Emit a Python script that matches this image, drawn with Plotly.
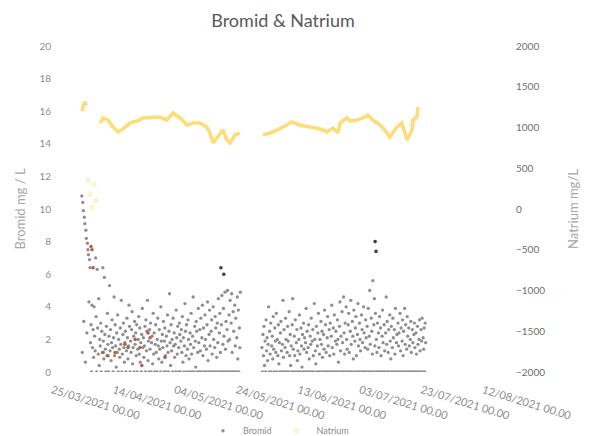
import pandas as pd
import plotly.graph_objects as go

# ---------------- data ----------------
bromid_seg1_start = "2021-04-03 16:00"
bromid_seg1 = [
    10.8, 1.2, 10.4, 9.9, 3.1, 9.5, 9.1, 0.6, 8.7, 8.2, 2.4, 7.9,
    7.5, 7.2, 4.3, 6.9, 6.4, 1.8, 2.9, 0.0, 4.1, 1.5, 2.6, 0.9,
    4.0, 2.2, 1.3, 7.0, 3.4, 0.0, 6.3, 2.7, 1.1, 4.5, 0.4, 2.0,
    1.6, 3.0, 0.0, 2.5, 1.2, 6.4, 1.9, 0.8, 5.8, 2.3, 1.4, 0.0,
    2.8, 1.0, 3.6, 1.7, 0.0, 2.2, 5.3, 1.3, 2.6, 0.7, 1.8, 3.2,
    1.5, 0.0, 2.1, 4.6, 1.0, 2.9, 1.6, 0.3, 2.4, 1.2, 3.5, 0.0,
    2.0, 1.4, 0.9, 2.7, 1.7, 4.4, 0.0, 1.1, 2.3, 3.0, 1.5, 0.6,
    1.8, 2.5, 0.0, 1.3, 3.3, 2.1, 0.8, 1.6, 4.1, 2.8, 0.0, 1.9,
    1.2, 2.6, 3.7, 0.5, 1.5, 2.2, 0.0, 3.1, 1.7, 2.4, 1.0, 2.9,
    0.0, 1.4, 2.0, 3.4, 1.1, 2.7, 0.6, 1.8, 0.0, 2.3, 3.9, 1.5,
    2.1, 0.9, 1.6, 2.8, 0.0, 3.2, 1.3, 2.5, 4.4, 0.7, 1.9, 0.0,
    2.6, 1.4, 3.0, 0.0, 1.8, 2.2, 0.5, 3.6, 1.1, 2.4, 0.0, 1.7,
    2.9, 1.2, 0.0, 2.0, 3.3, 1.6, 0.8, 2.6, 1.4, 0.0, 4.0, 1.9,
    0.6, 2.3, 1.5, 3.1, 0.0, 1.9, 2.7, 1.0, 0.0, 2.2, 1.6, 3.5,
    1.2, 0.0, 2.5, 4.8, 1.8, 0.4, 2.9, 1.3, 2.0, 0.0, 3.3, 1.6,
    2.4, 0.9, 1.7, 0.0, 3.8, 2.1, 1.1, 2.8, 0.0, 1.5, 3.0, 2.3,
    0.0, 1.9, 2.6, 1.2, 3.4, 0.6, 2.1, 0.0, 1.6, 4.2, 2.5, 1.0,
    2.9, 0.0, 1.4, 3.2, 2.0, 0.8, 0.0, 2.4, 1.7, 3.6, 1.1, 0.0,
    2.2, 4.6, 1.5, 0.0, 2.8, 1.9, 0.3, 3.1, 2.5, 0.0, 1.2, 3.9,
    1.8, 0.0, 2.6, 1.3, 3.3, 0.0, 2.1, 4.1, 1.0, 2.7, 0.0, 1.6,
    3.5, 2.0, 0.0, 1.4, 2.9, 4.3, 0.7, 0.0, 2.3, 3.8, 1.6, 0.0,
    2.5, 3.2, 1.1, 0.0, 4.0, 2.0, 0.0, 1.5, 3.4, 2.7, 0.0, 0.9,
    3.0, 1.8, 4.5, 0.0, 2.4, 3.6, 1.2, 0.0, 2.9, 4.7, 0.0, 1.7,
    3.9, 2.2, 0.0, 4.9, 1.4, 3.1, 0.0, 2.6, 5.0, 1.9, 0.0, 3.5,
    2.0, 4.4, 0.0, 3.0, 4.8, 1.2, 0.0, 3.7, 2.5, 0.0, 4.1, 1.6,
    3.3, 0.0, 2.1, 4.6, 0.8, 3.8, 0.0, 2.7, 1.5, 4.9,
]

bromid_seg2_start = "2021-06-01 04:00"
bromid_seg2 = [
    1.5, 0.0, 2.3, 1.0, 2.8, 0.4, 1.9, 0.0, 3.2, 1.3, 2.1, 0.7,
    1.7, 4.0, 0.0, 2.5, 1.1, 3.0, 0.0, 1.6, 2.2, 0.8, 3.4, 1.4,
    0.0, 2.7, 1.9, 1.2, 3.6, 0.0, 2.0, 1.0, 2.9, 0.5, 1.8, 0.0,
    2.4, 3.1, 1.3, 0.0, 1.7, 4.4, 0.9, 2.6, 0.0, 1.5, 3.3, 2.0,
    0.0, 1.2, 2.8, 1.9, 0.0, 3.7, 1.0, 2.3, 0.4, 1.6, 0.0, 2.9,
    4.5, 1.4, 0.0, 2.2, 1.0, 3.2, 0.0, 1.8, 2.6, 0.7, 1.3, 0.0,
    2.0, 3.5, 1.1, 0.0, 2.7, 1.6, 0.3, 2.3, 0.0, 3.0, 1.4, 2.1,
    0.0, 1.8, 3.9, 1.2, 2.5, 0.0, 1.5, 2.9, 0.8, 0.0, 2.2, 1.7,
    3.3, 0.0, 1.9, 2.6, 1.0, 0.0, 4.2, 2.0, 1.3, 0.5, 2.8, 0.0,
    1.6, 2.4, 3.6, 0.0, 1.1, 2.0, 0.0, 3.1, 1.7, 2.5, 0.9, 0.0,
    2.3, 1.4, 3.8, 0.0, 2.9, 1.2, 0.0, 2.1, 3.4, 1.6, 0.0, 2.6,
    1.0, 3.0, 0.0, 2.2, 4.1, 1.5, 0.0, 2.7, 1.1, 3.5, 0.0, 1.9,
    2.5, 0.0, 1.7, 3.2, 2.0, 0.6, 0.0, 2.8, 4.3, 1.3, 2.2, 0.0,
    3.7, 1.8, 0.0, 4.6, 2.4, 1.1, 3.0, 0.0, 4.0, 2.0, 1.4, 0.0,
    2.9, 3.6, 1.2, 0.0, 2.5, 4.4, 1.7, 0.0, 3.1, 2.2, 0.8, 3.8,
    0.0, 1.9, 2.7, 3.4, 1.0, 0.0, 2.3, 4.2, 1.6, 0.0, 3.0, 2.0,
    1.3, 0.0, 3.5, 2.6, 1.8, 0.0, 4.0, 2.4, 0.0, 1.5, 3.2, 2.1,
    0.0, 2.8, 1.4, 3.9, 0.0, 2.2, 5.0, 1.7, 0.0, 3.3, 2.5, 1.1,
    5.6, 0.0, 2.9, 4.5, 1.6, 3.6, 0.0, 2.0, 1.2, 3.0, 0.0, 2.4,
    1.5, 3.4, 0.0, 2.7, 1.0, 0.0, 2.2, 3.8, 1.8, 0.0, 2.9, 1.3,
    0.0, 2.4, 4.6, 1.7, 3.1, 0.0, 1.2, 2.6, 0.0, 3.5, 1.9, 0.8,
    2.8, 0.0, 1.5, 3.3, 2.1, 0.0, 2.6, 1.1, 3.9, 0.0, 1.8, 2.3,
    0.0, 3.0, 1.6, 2.4, 0.0, 3.6, 1.3, 2.7, 0.0, 1.9, 3.2, 1.0,
    2.5, 0.0, 3.9, 1.7, 2.9, 0.0, 1.4, 3.4, 2.2, 0.0, 2.7, 1.6,
    0.0, 2.0, 3.1, 1.2, 0.0, 2.6, 1.8, 0.0, 2.3, 3.0, 1.5, 0.0,
    2.4, 1.1, 0.0, 2.8, 1.7, 0.0, 2.0, 3.2, 1.3, 0.0, 2.6, 1.9,
    3.3, 0.0, 2.1, 1.4, 2.7, 0.0, 3.0, 1.8,
]

bromid_red_dates = ["2021-04-06 16:00", "2021-04-07 00:00", "2021-04-07 08:00",
                    "2021-04-10 14:00", "2021-04-12 04:00", "2021-04-14 12:00",
                    "2021-04-17 16:00", "2021-04-18 16:00", "2021-04-21 00:00",
                    "2021-04-22 14:00", "2021-04-23 04:00", "2021-04-25 04:00",
                    "2021-04-25 20:00", "2021-04-30 16:00"]
bromid_red = [7.7, 7.5, 6.4, 1.2, 1.0, 1.2, 1.7, 1.5, 2.0, 1.5, 0.4, 2.4, 2.1, 0.9]

bromid_dark_dates = ["2021-05-18 20:00", "2021-05-19 19:00",
                     "2021-07-07 22:00", "2021-07-08 05:00"]
bromid_dark = [6.4, 6.0, 8.0, 7.4]

natrium_dates = [
    "2021-04-03 17:00", "2021-04-04 00:00", "2021-04-04 10:00", "2021-04-04 19:00",
    "2021-04-05 05:00", "2021-04-06 00:00",
    "2021-04-09 14:00", "2021-04-10 14:00", "2021-04-12 05:00", "2021-04-12 19:00",
    "2021-04-13 19:00", "2021-04-15 10:00", "2021-04-17 00:00", "2021-04-19 07:00",
    "2021-04-21 14:00", "2021-04-23 12:00", "2021-04-26 19:00", "2021-04-29 00:00",
    "2021-05-01 07:00", "2021-05-03 07:00", "2021-05-05 14:00", "2021-05-07 19:00",
    "2021-05-09 19:00", "2021-05-12 00:00", "2021-05-14 07:00", "2021-05-15 07:00",
    "2021-05-16 07:00", "2021-05-17 22:00", "2021-05-19 12:00", "2021-05-20 19:00",
    "2021-05-21 19:00", "2021-05-23 10:00", "2021-05-25 00:00",
    "2021-05-28 00:00",
    "2021-06-01 12:00", "2021-06-04 19:00", "2021-06-08 00:00", "2021-06-10 22:00",
    "2021-06-13 12:00", "2021-06-16 19:00", "2021-06-20 00:00", "2021-06-22 07:00",
    "2021-06-24 05:00", "2021-06-25 22:00", "2021-06-26 12:00", "2021-06-28 19:00",
    "2021-06-29 19:00", "2021-07-02 00:00", "2021-07-04 00:00", "2021-07-05 14:00",
    "2021-07-07 05:00", "2021-07-09 12:00", "2021-07-10 12:00", "2021-07-12 17:00",
    "2021-07-15 00:00", "2021-07-16 14:00", "2021-07-17 14:00", "2021-07-18 07:00",
    "2021-07-19 22:00", "2021-07-20 05:00", "2021-07-21 12:00", "2021-07-21 20:00",
]
natrium = [
    1200, 1265, 1295, 1300, 1270, None,
    1055, 1117, 1090, 1055, 1006, 945, 982, 1055,
    1080, 1117, 1129, 1129, 1092, 1178, 1117, 1031,
    1055, 1055, 1006, 933, 810, 884, 970, 847,
    810, 908, 933,
    None,
    908, 945, 1006, 1067, 1031, 1006, 982, 945,
    994, 933, 1055, 1117, 1080, 1092, 1117, 1153,
    1092, 1031, 994, 884, 1006, 1055, 945, 847,
    970, 1092, 1129, 1250,
]

natrium_dip_dates = ["2021-04-05 17:00", "2021-04-06 07:00", "2021-04-07 00:00",
                     "2021-04-07 14:00", "2021-04-08 06:00"]
natrium_dip = [350, 180, 20, 300, 100]

# ---------------- figure ----------------
FONT = "Lato, 'Open Sans', sans-serif"
seg1_dates = pd.date_range(bromid_seg1_start, periods=len(bromid_seg1), freq="4h")
seg2_dates = pd.date_range(bromid_seg2_start, periods=len(bromid_seg2), freq="4h")

fig = go.Figure()

fig.add_trace(go.Scatter(
    x=natrium_dates, y=natrium, name="Natrium", yaxis="y2",
    mode="lines", connectgaps=False, showlegend=False, legendgroup="na",
    line=dict(color="rgba(252,206,64,0.7)", width=3.6),
))
fig.add_trace(go.Scatter(
    x=natrium_dip_dates, y=natrium_dip, yaxis="y2", mode="markers",
    name="Natrium", showlegend=True, legendgroup="na",
    marker=dict(color="rgba(232,236,130,0.35)", size=6),
))
fig.add_trace(go.Scatter(
    x=list(seg1_dates) + list(seg2_dates), y=bromid_seg1 + bromid_seg2,
    name="Bromid", mode="markers",
    marker=dict(color="#8E8E8E", size=3.3),
))
fig.add_trace(go.Scatter(
    x=bromid_red_dates, y=bromid_red, mode="markers", showlegend=False,
    marker=dict(color="#B5604A", size=3.6),
))
fig.add_trace(go.Scatter(
    x=bromid_dark_dates, y=bromid_dark, mode="markers", showlegend=False,
    marker=dict(color="#404040", size=3.6),
))

fig.update_layout(
    width=589, height=436,
    margin=dict(l=52, r=84, t=46, b=64),
    paper_bgcolor="white", plot_bgcolor="white",
    font=dict(family=FONT, color="#8C8C8C", size=10),
    title=dict(text="Bromid & Natrium", x=0.51, xref="paper", xanchor="center",
               y=0.953, yref="container", yanchor="middle",
               font=dict(family=FONT, size=18, color="#595959")),
    xaxis=dict(
        type="date", range=["2021-03-25", "2021-08-19 02:00"],
        tick0="2021-03-25", dtick=20 * 86400000,
        tickformat="%d/%m/%Y %H.%M", tickangle=17,
        showgrid=False, zeroline=False, showline=False, ticks="",
        tickfont=dict(size=11, color="#8C8C8C"), automargin=False,
        ticklabelstandoff=9,
    ),
    yaxis=dict(
        range=[0, 20], dtick=2, showgrid=False, zeroline=False, showline=False,
        title=dict(text="Bromid mg / L", font=dict(size=13, color="#A6A6A6"), standoff=10),
        tickfont=dict(size=10, color="#8C8C8C"), automargin=False,
    ),
    yaxis2=dict(
        range=[-2000, 2000], dtick=500, overlaying="y", side="right",
        showgrid=False, zeroline=False, showline=False,
        title=dict(text="Natrium mg/L", font=dict(size=13, color="#A6A6A6"), standoff=24),
        tickfont=dict(size=10, color="#6E6E6E"), automargin=False,
        ticklabelstandoff=10,
    ),
    legend=dict(orientation="h", x=0.5, xanchor="center", y=0.012, yref="container",
                yanchor="middle", font=dict(size=9, color="#8C8C8C"),
                itemwidth=30, traceorder="reversed", bgcolor="rgba(0,0,0,0)"),
    showlegend=True,
)

fig.write_html("out.html")
